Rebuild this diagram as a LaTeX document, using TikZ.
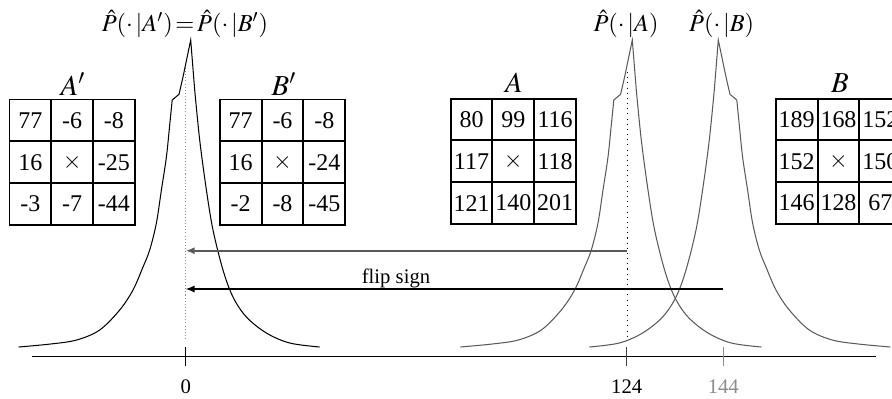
\documentclass[tikz,border=0pt]{standalone}
\usepackage{mathptmx}
\usepackage{fontspec}
\setmainfont{Liberation Serif}
\usetikzlibrary{arrows.meta,matrix}
\definecolor{curvegray}{gray}{0.35}
\definecolor{lightgray}{gray}{0.55}
\tikzset{
  tbl/.style={matrix of nodes, column sep=-0.9pt, row sep=-0.9pt,
    nodes={draw, line width=0.9pt, minimum width=20.2pt, minimum height=20.2pt,
      inner sep=0pt, anchor=center, font=\fontsize{11.6}{13}\selectfont}},
  ttl/.style={anchor=base, font=\fontsize{11.8}{14}\selectfont},
  tblttl/.style={anchor=base, font=\fontsize{14}{16}\selectfont},
  arr/.style={line width=0.6pt, -{Latex[length=4.3pt,width=3.4pt]}},
  tick/.style={line width=0.7pt},
  dist/.pic={
    \path[pic actions, line width=0.5pt]
      plot[smooth, tension=0.55] coordinates {(-172,347) (-140,344) (-114,340) (-91,330) (-71,310)
        (-57.7,290) (-47.7,267) (-41,250) (-34.3,223) (-29.3,190) (-24.3,157) (-21,125) (-18.5,100)}
      -- (-11.7,94.3) -- (-7.7,77) -- (0,40)
      -- plot[smooth, tension=0.55] coordinates {(4,90) (9,140) (15.7,190) (22.3,230)
        (32.3,270) (42.3,297) (55.7,317) (75.7,333) (99,343) (129,347)};
  }
}
\begin{document}
\begin{tikzpicture}[x=0.4835pt, y=-0.4835pt, font=\fontsize{10}{12}\selectfont]
\useasboundingbox (0,0) rectangle (892,398);
\clip (0,0) rectangle (892,398);

% axis
\coordinate (axL) at (31.7,356.7);
\coordinate (axR) at (876,356.7);
\draw[line width=0.6pt] (axL) -- (axR);
\draw[tick] (185.7,347) -- (185.7,366);
\draw[tick, black!75] (626.7,347) -- (626.7,366);
\draw[tick, lightgray] (723.3,347) -- (723.3,366);
\node[anchor=base] (l0) at (185.7,393) {0};
\node[anchor=base] (l124) at (626.7,393) {124};
\node[anchor=base, text=lightgray] (l144) at (723.3,393) {144};

% dotted lines
\draw[densely dotted, lightgray, line width=0.5pt] (185.7,68) -- (185.7,340);
\draw[dotted, line width=0.5pt] (627.7,72) -- (627.7,340);

% distributions
\pic[draw=black] at (190.7,0) {dist};
\pic[draw=curvegray] at (632.3,0) {dist};
\pic[draw=curvegray, xscale=-1] at (718.3,0) {dist};

% distribution labels
\node[ttl] (tAB) at (185,31.5) {$\hat{P}(\cdot\,|A')\!=\!\hat{P}(\cdot\,|B')$};
\node[ttl] (tA) at (626,31.5) {$\hat{P}(\cdot\,|A)$};
\node[ttl] (tB) at (721.7,31.5) {$\hat{P}(\cdot\,|B)$};

% arrows
\coordinate (z0a) at (185.7,250.7);
\coordinate (z0b) at (185.7,289);
\coordinate (zA) at (627.3,250.7);
\coordinate (zB) at (722.7,289);
\draw[arr, curvegray, line width=0.8pt] (zA) -- (z0a);
\draw[arr] (zB) -- (z0b);
\node[anchor=base] (flip) at (396,283.3) {flip sign};

% tables
\matrix (Ap) [tbl] at (72.2,162.2) {
  77 & -6 & -8 \\
  16 & $\times$ & -25 \\
  -3 & -7 & -44 \\
};
\matrix (Bp) [tbl] at (282.5,162.2) {
  77 & -6 & -8 \\
  16 & $\times$ & -24 \\
  -2 & -8 & -45 \\
};
\matrix (Am) [tbl] at (513.3,161.3) {
  80 & 99 & 116 \\
  117 & $\times$ & 118 \\
  121 & 140 & 201 \\
};
\matrix (Bm) [tbl] at (838.5,161.3) {
  189 & 168 & 152 \\
  152 & $\times$ & 150 \\
  146 & 128 & 67 \\
};
\node[tblttl] (nAp) at (73,95) {$A'$};
\node[tblttl] (nBp) at (284,95) {$B'$};
\node[tblttl] (nA) at (514,92.5) {$A$};
\node[tblttl] (nB) at (840,92.5) {$B$};
\end{tikzpicture}
\end{document}
